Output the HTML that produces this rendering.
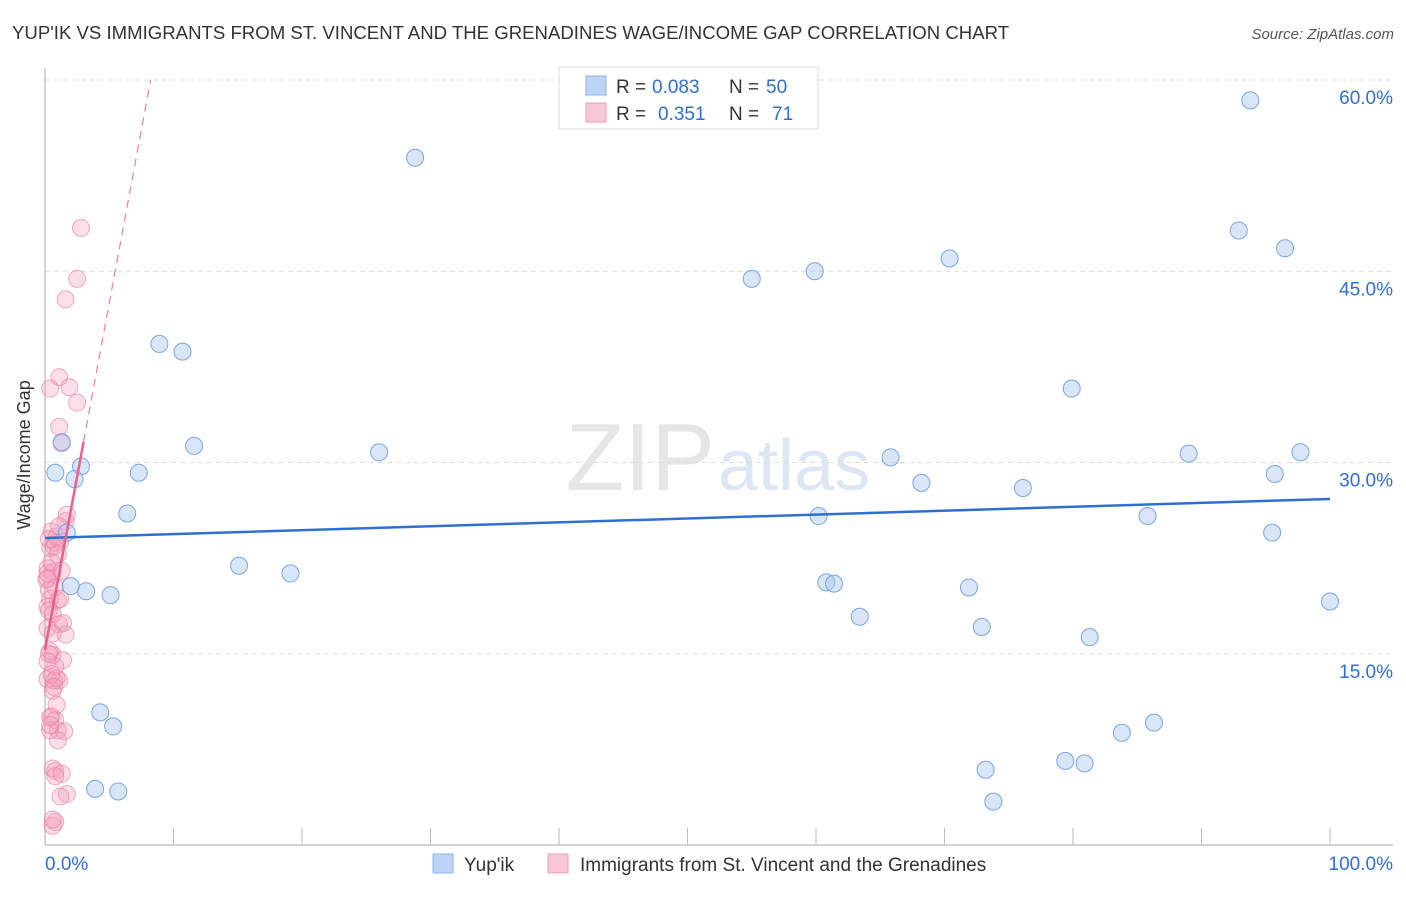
<!DOCTYPE html>
<html><head><meta charset="utf-8"><style>
body{margin:0;background:#fff;font-family:"Liberation Sans",sans-serif}
svg text{font-family:"Liberation Sans",sans-serif}
</style></head><body>
<svg id="chart" width="1406" height="892">
<text x="12" y="39" font-size="18.6" fill="#333">YUP'IK VS IMMIGRANTS FROM ST. VINCENT AND THE GRENADINES WAGE/INCOME GAP CORRELATION CHART</text>
<text x="1394" y="39" font-size="15" fill="#555" font-style="italic" text-anchor="end">Source: ZipAtlas.com</text>
<text x="715" y="490" font-size="96" fill="#e6e6e6" text-anchor="end" font-family="Liberation Serif">ZIP</text>
<text x="718" y="490" font-size="72" fill="#dde6f5">atlas</text>
<g id="grid"></g><g id="axes"></g><g id="pts"></g><g id="trend"></g>
<text x="30" y="455" font-size="18" fill="#333" text-anchor="middle" transform="rotate(-90 30 455)">Wage/Income Gap</text>
<g>
<rect x="559" y="67" width="259" height="62" fill="#fff" stroke="#ddd"/>
<rect x="586" y="76" width="20" height="19" fill="#bcd4f5" stroke="#8fb3e8"/>
<rect x="586" y="103" width="20" height="19" fill="#f9c6d6" stroke="#ee9fb8"/>
<text x="616" y="93" font-size="19" fill="#333">R =</text>
<text x="652" y="93" font-size="19" fill="#2f6fcf">0.083</text>
<text x="729" y="93" font-size="19" fill="#333">N =</text>
<text x="766" y="93" font-size="19" fill="#2f6fcf">50</text>
<text x="616" y="120" font-size="19" fill="#333">R =</text>
<text x="658" y="120" font-size="19" fill="#2f6fcf">0.351</text>
<text x="729" y="120" font-size="19" fill="#333">N =</text>
<text x="772" y="120" font-size="19" fill="#2f6fcf">71</text>
</g>
<g>
<rect x="433" y="854" width="20" height="19" fill="#bcd4f5" stroke="#8fb3e8"/>
<text x="464" y="871" font-size="19" fill="#333">Yup'ik</text>
<rect x="548" y="854" width="20" height="19" fill="#f9c6d6" stroke="#ee9fb8"/>
<text x="580" y="871" font-size="19" fill="#333">Immigrants from St. Vincent and the Grenadines</text>
</g>
</svg>
<script>
const yTicks=[15,30,45,60];
const yTickLabels=["15.0%","30.0%","45.0%","60.0%"];
const blueX=[28.8,93.8,92.9,96.5,70.4,59.9,55.0,8.9,10.7,79.9,1.3,11.6,26.0,65.8,89.0,97.7,0.8,2.8,7.3,2.3,68.2,76.1,95.7,6.4,60.2,85.8,1.7,95.5,15.1,19.1,60.8,61.4,71.9,3.2,5.1,100,63.4,72.9,81.3,4.3,5.3,86.3,83.8,79.4,80.9,73.2,3.9,5.7,73.8,2.0];
const blueY=[53.9,58.4,48.2,46.8,46.0,45.0,44.4,39.3,38.7,35.8,31.6,31.3,30.8,30.4,30.7,30.8,29.2,29.7,29.2,28.7,28.4,28.0,29.1,26.0,25.8,25.8,24.5,24.5,21.9,21.3,20.6,20.5,20.2,19.9,19.6,19.1,17.9,17.1,16.3,10.4,9.3,9.6,8.8,6.6,6.4,5.9,4.4,4.2,3.4,20.3];
const pinkX=[2.8,2.5,1.6,1.1,1.9,0.4,2.5,1.1,1.3,1.7,1.6,0.5,1.2,0.4,0.8,0.2,0.6,0.1,0.8,0.4,1.0,0.2,0.6,1.1,0.2,1.6,0.4,0.6,1.4,0.8,0.2,1.1,0.6,0.5,0.8,1.0,0.4,1.5,1.0,0.6,0.8,1.3,1.7,1.2,0.8,0.6,0.3,0.9,0.2,0.5,1.4,0.7,0.3,0.9,1.2,0.4,0.2,0.7,1.0,0.3,0.6,1.3,0.5,0.9,0.2,0.4,0.8,0.6,1.1,0.3,0.7];
const pinkY=[48.4,44.4,42.8,36.7,35.9,35.8,34.7,32.8,31.5,25.9,25.4,24.6,23.8,23.3,23.7,21.7,21.4,20.8,20.2,19.3,19.2,18.7,18.1,17.3,17.0,16.5,15.2,14.9,14.5,14.0,13.0,12.9,12.1,10.1,9.8,9.0,9.0,8.9,8.2,6.0,5.8,5.6,4.0,3.8,1.8,1.5,24.0,24.2,21.3,22.2,17.4,12.9,15.0,13.1,19.3,10.0,20.9,23.4,22.8,18.4,16.6,21.5,13.4,11.0,14.4,9.4,5.4,2.0,25.0,20.0,12.4];
const blueTrend=[24.08,27.14];
const pinkTrend=[15.3,5.44];
const X=v=>45+v*12.85, Y=v=>845-v*12.75;
const NS="http://www.w3.org/2000/svg";
function mk(p,t,a){const e=document.createElementNS(NS,t);for(const k in a)e.setAttribute(k,a[k]);document.getElementById(p).appendChild(e);return e;}
yTicks.forEach((t,i)=>{
 const l=mk('grid','line',{x1:45,x2:1393,y1:Y(t),y2:Y(t),stroke:'#ddd','stroke-dasharray':'5,4'});
 
 
 const tx=mk('grid','text',{x:1393,y:Y(t)+24,'font-size':19,fill:'#2f6fcf','text-anchor':'end'});
 tx.textContent=yTickLabels[i];
 
 
});
let a=mk('axes','line',{x1:45,x2:45,y1:68,y2:845,stroke:'#aaa'});


a=mk('axes','line',{x1:45,x2:1393,y1:845,y2:845,stroke:'#aaa'});


for(let t=10;t<=100;t+=10){const l=mk('axes','line',{x1:X(t),x2:X(t),y1:828,y2:845,stroke:'#bbb'});
 
 }
let tl=mk('axes','text',{x:45,y:870,'font-size':19,fill:'#2f6fcf'});tl.textContent='0.0%';


tl=mk('axes','text',{x:1393,y:870,'font-size':19,fill:'#2f6fcf','text-anchor':'end'});tl.textContent='100.0%';


pinkX.forEach((x,i)=>{const c=mk('pts','circle',{cx:X(x),cy:Y(pinkY[i]),r:8.5,fill:'rgba(244,160,188,0.35)',stroke:'rgba(232,120,160,0.6)'});
 
 });
blueX.forEach((x,i)=>{const c=mk('pts','circle',{cx:X(x),cy:Y(blueY[i]),r:8.5,fill:'rgba(170,200,240,0.45)',stroke:'#7aa6e0'});
 
 });
let t=mk('trend','line',{x1:X(0),x2:X(100),y1:Y(blueTrend[0]),y2:Y(blueTrend[1]),stroke:'#2f6fcf','stroke-width':2.5});


t=mk('trend','line',{x1:X(0),x2:X(3),y1:Y(pinkTrend[0]),y2:Y(pinkTrend[0]+3*pinkTrend[1]),stroke:'#e8608c','stroke-width':2.5});


const xe=(60-pinkTrend[0])/pinkTrend[1];
t=mk('trend','line',{x1:X(3),x2:X(xe),y1:Y(pinkTrend[0]+3*pinkTrend[1]),y2:Y(60),stroke:'#e8809f','stroke-width':1.2,'stroke-dasharray':'8,6'});


</script>
</body></html>
